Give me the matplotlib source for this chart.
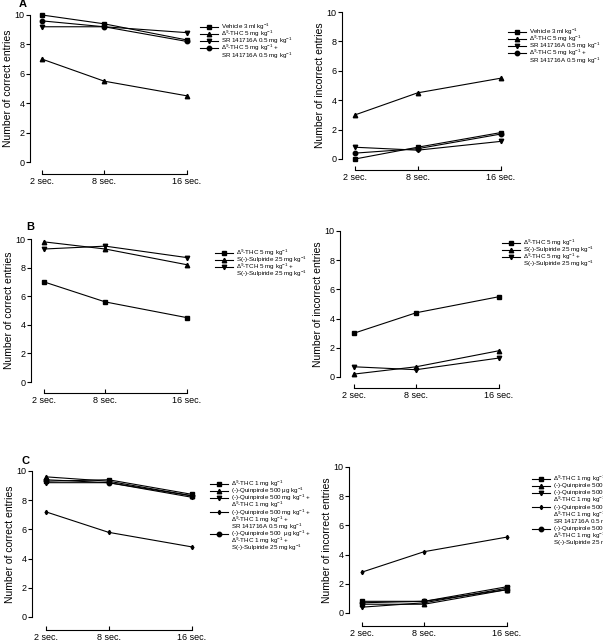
import matplotlib
matplotlib.use("Agg")
import matplotlib.pyplot as plt
from matplotlib.lines import Line2D

plt.rcParams["font.family"] = ["Liberation Sans", "DejaVu Sans"]
plt.rcParams["mathtext.fontset"] = "custom"
plt.rcParams["mathtext.rm"] = "Liberation Sans"
plt.rcParams["mathtext.it"] = "Liberation Sans:italic"
plt.rcParams["mathtext.bf"] = "Liberation Sans:bold"

secs = [2, 8, 16]
sec_labels = ["2 sec.", "8 sec.", "16 sec."]

# panel A
a_labels = ["Vehicle 3 ml kg$^{-1}$",
            "Δ$^{9}$-THC 5 mg kg$^{-1}$",
            "SR 141716A 0.5 mg kg$^{-1}$",
            "Δ$^{9}$-THC 5 mg kg$^{-1}$ +\nSR 141716A 0.5 mg kg$^{-1}$"]
a_markers = ["s", "^", "v", "o"]
a_correct = [[10.0, 9.4, 8.3],
             [7.0, 5.5, 4.5],
             [9.2, 9.2, 8.8],
             [9.6, 9.2, 8.2]]
a_incorrect = [[0.0, 0.8, 1.8],
               [3.0, 4.5, 5.5],
               [0.8, 0.6, 1.2],
               [0.4, 0.7, 1.7]]

# panel B
b_labels_left = ["Δ$^{9}$-THC 5 mg kg$^{-1}$",
                 "S(-)-Sulpiride 25 mg kg$^{-1}$",
                 "Δ$^{9}$-TCH 5 mg kg$^{-1}$ +\nS(-)-Sulpiride 25 mg kg$^{-1}$"]
b_labels_right = ["Δ$^{9}$-THC 5 mg kg$^{-1}$",
                  "S(-)-Sulpiride 25 mg kg$^{-1}$",
                  "Δ$^{9}$-THC 5 mg kg$^{-1}$ +\nS(-)-Sulpiride 25 mg kg$^{-1}$"]
b_markers = ["s", "^", "v"]
b_correct = [[7.0, 5.6, 4.5],
             [9.8, 9.3, 8.2],
             [9.3, 9.5, 8.7]]
b_incorrect = [[3.0, 4.4, 5.5],
               [0.2, 0.7, 1.8],
               [0.7, 0.5, 1.3]]

# panel C
c_labels = ["Δ$^{9}$-THC 1 mg kg$^{-1}$",
            "(-)-Quinpirole 500 μg kg$^{-1}$",
            "(-)-Quinpirole 500 mg kg$^{-1}$ +\nΔ$^{9}$-THC 1 mg kg$^{-1}$",
            "(-)-Quinpirole 500 mg kg$^{-1}$ +\nΔ$^{9}$-THC 1 mg kg$^{-1}$ +\nSR 141716A 0.5 mg kg$^{-1}$",
            "(-)-Quinpirole 500  μg kg$^{-1}$ +\nΔ$^{9}$-THC 1 mg kg$^{-1}$ +\nS(-)-Sulpiride 25 mg kg$^{-1}$"]
c_labels_right = ["Δ$^{9}$-THC 1 mg kg$^{-1}$",
                  "(-)-Quinpirole 500 μg kg$^{-1}$",
                  "(-)-Quinpirole 500 μg kg$^{-1}$ +\nΔ$^{9}$-THC 1 mg kg$^{-1}$",
                  "(-)-Quinpirole 500 μg kg$^{-1}$ +\nΔ$^{9}$-THC 1 mg kg$^{-1}$ +\nSR 141716A 0.5 mg kg$^{-1}$",
                  "(-)-Quinpirole 500 μg kg$^{-1}$ +\nΔ$^{9}$-THC 1 mg kg$^{-1}$ +\nS(-)-Sulpiride 25 mg kg$^{-1}$"]
c_markers = ["s", "^", "v", "d", "o"]
c_correct = [[9.3, 9.4, 8.4],
             [9.6, 9.3, 8.3],
             [9.2, 9.2, 8.2],
             [7.2, 5.8, 4.8],
             [9.4, 9.2, 8.3]]
c_incorrect = [[0.8, 0.8, 1.8],
               [0.6, 0.6, 1.6],
               [0.4, 0.7, 1.7],
               [2.8, 4.2, 5.2],
               [0.7, 0.8, 1.6]]

W, H = 603, 640
fig = plt.figure(figsize=(W / 100, H / 100), dpi=100)


def msize(m):
    return 2.2 if m == "d" else 3.2


def key(labels, markers, x, y, row=7.1):
    # hand-drawn legend so the rows sit as tight as in the print
    for lab, m in zip(labels, markers):
        fy = 1 - y / H
        fig.add_artist(Line2D([x / W, (x + 18) / W], [fy, fy], color="black", lw=0.8))
        fig.add_artist(Line2D([(x + 9) / W], [fy], color="black",
                              marker=m, ms=msize(m), lw=0))
        for line in lab.split("\n"):
            fig.text((x + 21) / W, 1 - y / H, line, fontsize=4.5,
                     ha="left", va="center")
            y += row


def panel(box, offs, data, labels, markers, ylabel, leg_xy):
    x0, y0, x1, y1 = box
    ax = fig.add_axes([x0 / W, 1 - y1 / H, (x1 - x0) / W, (y1 - y0) / H])
    ax.patch.set_visible(False)
    for vals, m in zip(data, markers):
        ax.plot(secs, vals, color="black", lw=0.8, marker=m, ms=msize(m),
                clip_on=False)
    ax.set_xlim(2, 16)
    ax.set_ylim(0, 10)
    ax.spines["top"].set_visible(False)
    ax.spines["right"].set_visible(False)
    ax.spines["left"].set_position(("outward", offs[0] * 0.72))
    ax.spines["bottom"].set_position(("outward", offs[1] * 0.72))
    ax.spines["left"].set_bounds(0, 10)
    ax.spines["bottom"].set_bounds(2, 16)
    ax.spines["left"].set_linewidth(0.8)
    ax.spines["bottom"].set_linewidth(0.8)
    ax.set_yticks([0, 2, 4, 6, 8, 10])
    ax.set_xticks(secs)
    ax.set_xticklabels(sec_labels)
    ax.tick_params(axis="y", direction="out", length=3, width=0.8, labelsize=6.5, pad=1)
    ax.tick_params(axis="x", direction="in", length=3, width=0.8, labelsize=6.5, pad=2.5)
    ax.set_ylabel(ylabel, fontsize=7.5, labelpad=1)
    key(labels, markers, leg_xy[0], leg_xy[1])
    return ax


panel((42, 15, 187, 162), (12, 12), a_correct, a_labels, a_markers,
      "Number of correct entries", (200, 27))
panel((355, 12, 501, 159), (13, 11), a_incorrect, a_labels, a_markers,
      "Number of incorrect entries", (508, 32))
panel((44, 239, 187, 382), (13, 11), b_correct, b_labels_left, b_markers,
      "Number of correct entries", (215, 253))
panel((354, 231, 499, 377), (14, 11), b_incorrect, b_labels_right, b_markers,
      "Number of incorrect entries", (502, 243))
panel((46, 471, 192, 617), (14, 13), c_correct, c_labels, c_markers,
      "Number of correct entries", (210, 484))
panel((362, 467, 507, 613), (13, 13), c_incorrect, c_labels_right, c_markers,
      "Number of incorrect entries", (532, 479))

for letter, (lx, ly) in zip("ABC", [(23, 4), (30, 227), (25, 461)]):
    fig.text(lx / W, 1 - ly / H, letter, fontsize=8, fontweight="bold",
             ha="center", va="center")

fig.savefig("out.png", dpi=100)
